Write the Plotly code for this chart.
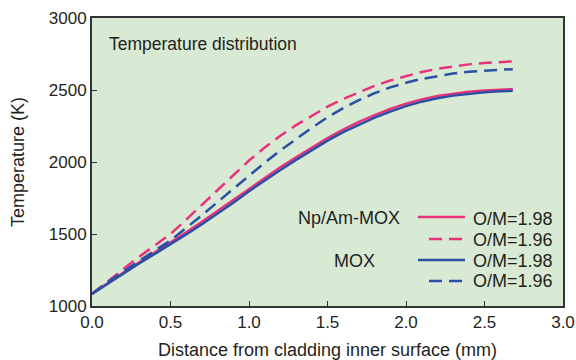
import plotly.graph_objects as go

x = [0, 0.1, 0.2, 0.3, 0.4, 0.5, 0.6, 0.7, 0.8, 0.9, 1.0, 1.1, 1.2, 1.3, 1.4,
     1.5, 1.6, 1.7, 1.8, 1.9, 2.0, 2.1, 2.2, 2.3, 2.4, 2.5, 2.6, 2.68]

npam_198 = [1085, 1160, 1232, 1303, 1372, 1440, 1512, 1585, 1660, 1738, 1815, 1890, 1963, 2033,
            2101, 2166, 2225, 2278, 2325, 2368, 2405, 2435, 2458, 2475, 2488, 2497, 2503, 2506]
npam_196 = [1085, 1172, 1258, 1342, 1420, 1500, 1600, 1702, 1806, 1908, 2010, 2100, 2182, 2256,
            2323, 2384, 2438, 2486, 2529, 2566, 2598, 2625, 2647, 2664, 2678, 2688, 2695, 2699]
mox_198 = [1083, 1155, 1225, 1295, 1362, 1428, 1497, 1568, 1640, 1717, 1797, 1872, 1945, 2015,
           2083, 2148, 2207, 2260, 2308, 2350, 2388, 2419, 2443, 2461, 2475, 2485, 2491, 2494]
mox_196 = [1083, 1165, 1240, 1315, 1385, 1455, 1540, 1630, 1722, 1815, 1905, 1995, 2080, 2160,
           2238, 2310, 2374, 2430, 2478, 2518, 2551, 2577, 2598, 2614, 2627, 2635, 2641, 2644]

series_names = ["O/M=1.98", "O/M=1.96", "O/M=1.98", "O/M=1.96"]
group_labels = ["Np/Am-MOX", "MOX"]
x_ticks = [0.0, 0.5, 1.0, 1.5, 2.0, 2.5, 3.0]
y_ticks = [1000, 1500, 2000, 2500, 3000]

PINK = "#e8327a"
BLUE = "#2a4fa5"
FONT = "Liberation Sans, Arial, sans-serif"
TXT = "#231f20"
DASH = "13px,7px"

fig = go.Figure()
styles = [(npam_198, PINK, "solid"), (npam_196, PINK, DASH),
          (mox_198, BLUE, "solid"), (mox_196, BLUE, DASH)]
for (ys, col, dash), name in zip(styles, series_names):
    fig.add_trace(go.Scatter(x=x, y=ys, mode="lines", name=name, showlegend=False,
                             line=dict(color=col, width=2.5, dash=dash)))

# plot area in pixels: x 92..563, y 18..306
W_PLOT = 576 - 92 - 13


def px(xp):
    return (xp - 92) / W_PLOT


# hand-laid legend (paper coordinates) matching the original figure's key
row_y_line = [0.309, 0.233, 0.160, 0.087]
row_y_text = [0.302, 0.229, 0.156, 0.087]
shapes = []
annotations = []
for (ys, col, dash), name, yl, yt in zip(styles, series_names, row_y_line, row_y_text):
    if dash == "solid":
        x0, x1 = px(418), px(465)
    else:
        x0, x1 = px(429), px(463)
    shapes.append(dict(type="line", xref="paper", yref="paper", x0=x0, x1=x1, y0=yl, y1=yl,
                       line=dict(color=col, width=2.5, dash=dash)))
    annotations.append(dict(text=name, xref="paper", yref="paper", x=px(471), y=yt,
                            xanchor="left", yanchor="middle", showarrow=False,
                            font=dict(size=18)))
annotations += [
    dict(text="Temperature distribution", xref="paper", yref="paper", x=px(107), y=0.91,
         xanchor="left", yanchor="middle", showarrow=False, font=dict(size=17.5)),
    dict(text=group_labels[0], xref="paper", yref="paper", x=px(401.7), y=0.3056,
         xanchor="right", yanchor="middle", showarrow=False, font=dict(size=18)),
    dict(text=group_labels[1], xref="paper", yref="paper", x=px(377), y=0.157,
         xanchor="right", yanchor="middle", showarrow=False, font=dict(size=18)),
]

fig.update_layout(
    width=576, height=360,
    margin=dict(l=92, r=13, t=18, b=54),
    paper_bgcolor="white",
    plot_bgcolor="#d8e9d4",
    font=dict(family=FONT, size=17, color=TXT),
    showlegend=False,
    shapes=shapes,
    annotations=annotations,
    xaxis=dict(range=[0, 3], tickvals=x_ticks, ticktext=[f"{v:.1f}" for v in x_ticks],
               ticks="inside", ticklen=5, tickwidth=1, tickcolor="#333",
               showline=True, linecolor="#333", linewidth=2, mirror=True,
               showgrid=False, zeroline=False, automargin=False,
               ticklabeloverflow="allow",
               title=dict(text="Distance from cladding inner surface (mm)", standoff=12,
                          font=dict(size=18))),
    yaxis=dict(range=[1000, 3000], tickvals=y_ticks,
               ticks="inside", ticklen=5, tickwidth=1, tickcolor="#333",
               showline=True, linecolor="#333", linewidth=2, mirror=True,
               showgrid=False, zeroline=False, automargin=False,
               ticklabeloverflow="allow",
               title=dict(text="Temperature (K)", standoff=19, font=dict(size=18))),
)

fig.write_html("out.html", config={"displayModeBar": False},
               post_script="document.body.style.margin='0';document.body.style.overflow='hidden';")
